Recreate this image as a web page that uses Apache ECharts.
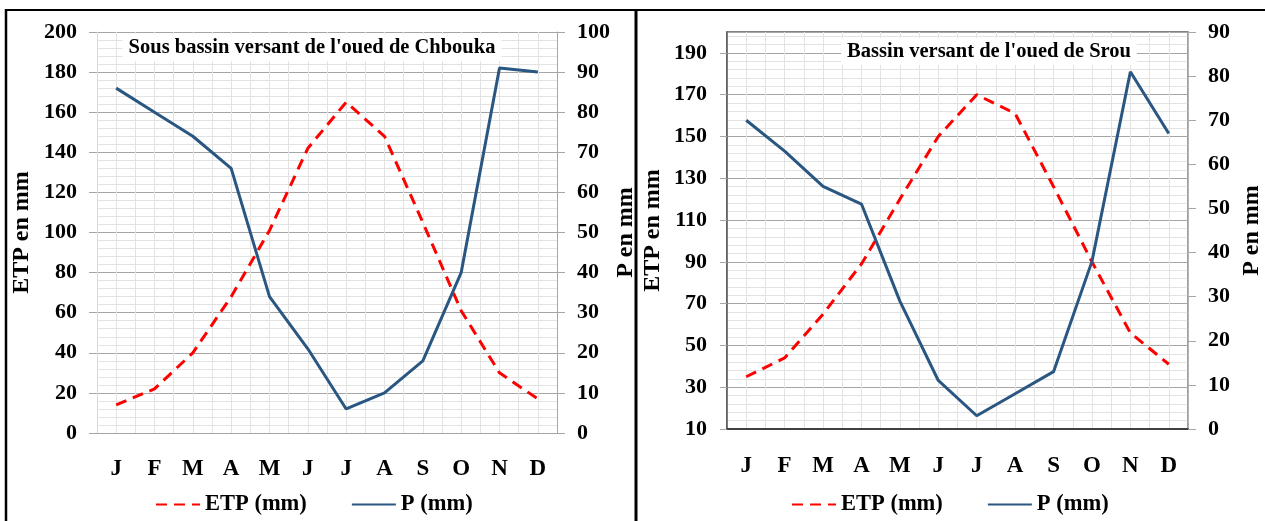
<!DOCTYPE html>
<html><head><meta charset="utf-8">
<script src="https://cdn.jsdelivr.net/npm/echarts@6/dist/echarts.min.js"></script>
<style>html,body{margin:0;padding:0;background:#fff}#c{width:1265px;height:521px}</style>
</head><body><div id="c"></div>
<script>
// ---- Data ----
const months = ['J','F','M','A','M','J','J','A','S','O','N','D'];
const etpChbouka = [14, 22, 40, 68, 101, 142, 165, 148, 105, 61, 30, 17];
const pChbouka   = [86, 80, 74, 66, 34, 21, 6, 10, 18, 40, 91, 90];
const etpSrou    = [35, 44, 65, 89, 120, 150, 170, 161, 126, 90, 56, 41];
const pSrou      = [70, 63, 55, 51, 29, 11, 3, 8, 13, 38, 81, 67];
const srouEtpTicks = [10, 30, 50, 70, 90, 110, 130, 150, 170, 190];
const titles = ["Sous bassin versant de l'oued de Chbouka", "Bassin versant de l'oued de Srou"];
const seriesNames = ['ETP (mm)', 'P (mm)'];
const axisTitles = ['ETP en mm', 'P en mm'];

// ---- Style ----
const FONT = "'Liberation Serif','Times New Roman',serif";
const MAJOR = '#a6a6a6', MINOR = '#e3e3e3';
const ETP_COLOR = '#ff0000', P_COLOR = '#2a5682';
const txt = (s) => ({fontFamily: FONT, fontWeight: 'bold', fontSize: s, color: '#000'});

const chart = echarts.init(document.getElementById('c'), null, {renderer: 'canvas'});

const hiddenAxisBase = {
  show: true, axisLine: {show: false}, axisTick: {show: false}, axisLabel: {show: false}
};

const option = {
  backgroundColor: '#fff',
  animation: false,
  grid: [
    {left: 97, right: 708, top: 32, bottom: 88},
    {left: 727, right: 73, top: 32, bottom: 92, show: true, borderColor: '#595959', borderWidth: 1.5}
  ],
  title: [
    {text: titles[0], left: 306, top: 34, textAlign: 'center', backgroundColor: '#fff',
     padding: [3, 6], textStyle: txt(20.5)},
    {text: titles[1], left: 983, top: 38, textAlign: 'center', backgroundColor: '#fff',
     padding: [3, 6], textStyle: txt(20.5)}
  ],
  legend: [
    {data: seriesNames, left: 150, top: 488, itemWidth: 44, itemHeight: 14, itemGap: 44,
     itemStyle: {opacity: 0}, textStyle: txt(22.5)},
    {data: seriesNames, left: 786, top: 488, itemWidth: 44, itemHeight: 14, itemGap: 44,
     itemStyle: {opacity: 0}, textStyle: txt(22.5)}
  ],
  xAxis: [
    {type: 'category', gridIndex: 0, data: months, boundaryGap: true,
     axisLine: {lineStyle: {color: MAJOR}}, axisTick: {length: 7, lineStyle: {color: MAJOR}},
     axisLabel: Object.assign(txt(23), {margin: 25}), splitLine: {show: false}},
    Object.assign({type: 'value', gridIndex: 0, min: 0, max: 24, interval: 1,
     splitLine: {show: true, lineStyle: {color: MINOR}}}, hiddenAxisBase),
    {type: 'category', gridIndex: 1, data: months, boundaryGap: true,
     axisLine: {lineStyle: {color: '#404040', width: 2}}, axisTick: {length: 7, lineStyle: {color: MAJOR}},
     axisLabel: Object.assign(txt(23), {margin: 26}), splitLine: {show: false}},
    Object.assign({type: 'value', gridIndex: 1, min: 0, max: 24, interval: 1,
     splitLine: {show: true, lineStyle: {color: MINOR}}}, hiddenAxisBase)
  ],
  yAxis: [
    // 0: left chart ETP
    {type: 'value', gridIndex: 0, position: 'left', min: 0, max: 200, interval: 20,
     axisLine: {show: true, lineStyle: {color: '#d9d9d9'}},
     axisTick: {show: true, length: 8, lineStyle: {color: MAJOR}},
     axisLabel: Object.assign(txt(22), {margin: 20}),
     splitLine: {show: true, lineStyle: {color: MAJOR}},
     minorTick: {show: false, splitNumber: 5},
     minorSplitLine: {show: true, lineStyle: {color: MINOR}},
     name: axisTitles[0], nameLocation: 'middle', nameGap: 63, nameRotate: 90, nameTextStyle: txt(24)},
    // 1: left chart P
    {type: 'value', gridIndex: 0, position: 'right', min: 0, max: 100, interval: 10,
     axisLine: {show: true, lineStyle: {color: MAJOR}},
     axisTick: {show: true, length: 8, lineStyle: {color: MAJOR}},
     axisLabel: Object.assign(txt(22), {margin: 20}),
     splitLine: {show: false},
     name: axisTitles[1], nameLocation: 'middle', nameGap: 55, nameRotate: 90, nameTextStyle: txt(24)},
    // 2: right chart minor grid (offset scale from 10)
    Object.assign({type: 'value', gridIndex: 1, position: 'left', min: 0, max: 190, interval: 4,
     splitLine: {show: true, lineStyle: {color: MINOR}}}, hiddenAxisBase),
    // 3: right chart major grid (offset scale from 10)
    Object.assign({type: 'value', gridIndex: 1, position: 'left', min: 0, max: 190, interval: 20,
     splitLine: {show: true, lineStyle: {color: MAJOR}}}, hiddenAxisBase),
    // 4: right chart ETP
    {type: 'value', gridIndex: 1, position: 'left', min: 10, max: 200,
     axisLine: {show: true, lineStyle: {color: '#595959', width: 1.5}},
     axisTick: {show: true, length: 7, lineStyle: {color: MAJOR}, customValues: srouEtpTicks},
     axisLabel: Object.assign(txt(22), {margin: 20, customValues: srouEtpTicks}),
     splitLine: {show: false},
     name: axisTitles[0], nameLocation: 'middle', nameGap: 62, nameRotate: 90, nameTextStyle: txt(24)},
    // 5: right chart P
    {type: 'value', gridIndex: 1, position: 'right', min: 0, max: 90, interval: 10,
     axisLine: {show: true, lineStyle: {color: MAJOR, width: 1.5}},
     axisTick: {show: true, length: 8, lineStyle: {color: MAJOR}},
     axisLabel: Object.assign(txt(22), {margin: 20}),
     splitLine: {show: false},
     name: axisTitles[1], nameLocation: 'middle', nameGap: 52, nameRotate: 90, nameTextStyle: txt(24)}
  ],
  series: [
    {name: seriesNames[0], type: 'line', xAxisIndex: 0, yAxisIndex: 0, data: etpChbouka,
     symbol: 'none', itemStyle: {color: ETP_COLOR}, lineStyle: {color: ETP_COLOR, width: 3, type: [11, 7]}, z: 5},
    {name: seriesNames[1], type: 'line', xAxisIndex: 0, yAxisIndex: 1, data: pChbouka,
     symbol: 'none', itemStyle: {color: P_COLOR}, lineStyle: {color: P_COLOR, width: 3}, z: 6},
    {name: seriesNames[0], type: 'line', xAxisIndex: 2, yAxisIndex: 4, data: etpSrou,
     symbol: 'none', itemStyle: {color: ETP_COLOR}, lineStyle: {color: ETP_COLOR, width: 3, type: [11, 7]}, z: 5},
    {name: seriesNames[1], type: 'line', xAxisIndex: 2, yAxisIndex: 5, data: pSrou,
     symbol: 'none', itemStyle: {color: P_COLOR}, lineStyle: {color: P_COLOR, width: 3}, z: 6}
  ],
  graphic: [
    {type: 'line', silent: true, shape: {x1: 6, y1: 9, x2: 6, y2: 521}, style: {stroke: '#000', lineWidth: 2.5}},
    {type: 'line', silent: true, shape: {x1: 5, y1: 10, x2: 1265, y2: 10}, style: {stroke: '#000', lineWidth: 2}},
    {type: 'line', silent: true, shape: {x1: 636, y1: 9, x2: 636, y2: 521}, style: {stroke: '#000', lineWidth: 3}}
  ]
};
chart.setOption(option);
</script>
</body></html>
